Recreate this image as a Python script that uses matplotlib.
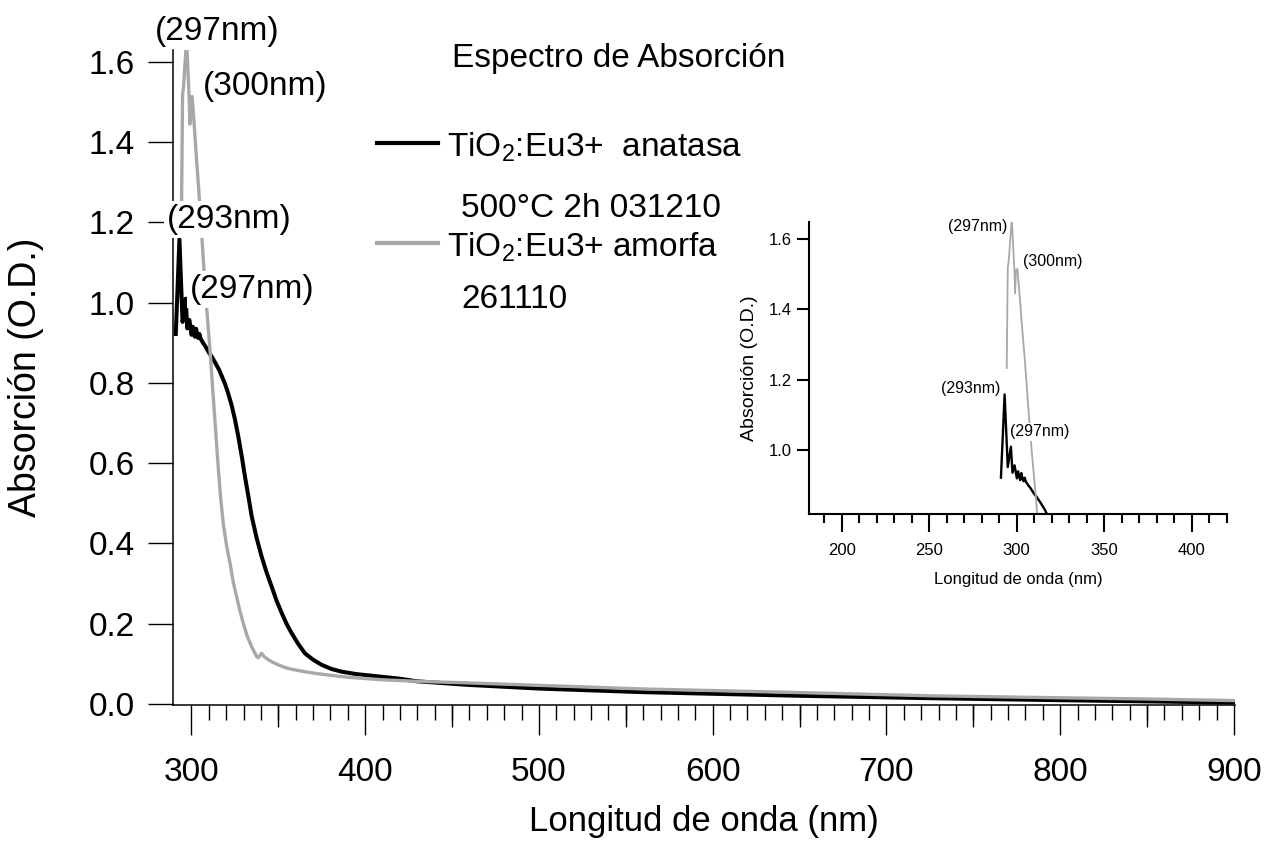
import numpy as np
import matplotlib
matplotlib.use('Agg')
import matplotlib.pyplot as plt
from matplotlib.ticker import MultipleLocator, FixedLocator, FormatStrFormatter, NullFormatter
from matplotlib.lines import Line2D

plt.rcParams['font.family'] = ['Liberation Sans', 'DejaVu Sans']
plt.rcParams['mathtext.fontset'] = 'custom'
plt.rcParams['mathtext.rm'] = 'Liberation Sans'
plt.rcParams['mathtext.it'] = 'Liberation Sans:italic'

# espectro TiO2:Eu3+ anatasa (500C 2h 031210)
wl_anatasa = [291.0, 293.1, 294.9, 296.7, 297.6, 298.8, 300.1, 300.8, 301.5, 302.0, 302.7,
              303.4, 303.9, 304.6, 305.3, 306.0, 306.8, 307.8, 308.7, 310.0, 311.6, 313.5,
              316.0, 319.3, 321.0, 323.1, 325.0, 327.0, 329.0, 330.8, 332.8, 334.7, 337.5,
              340.4, 343.3, 346.2, 349.0, 352.0, 354.8, 357.7, 361.5, 365.3, 370.0, 375.0,
              380.5, 386.5, 395.0, 403.7, 419.1, 430.0, 460.0, 500.0, 560.0, 600.0, 650.0,
              725.0, 800.0, 850.0, 900.0]
abs_anatasa = [0.922, 1.158, 0.952, 1.010, 0.936, 0.957, 0.920, 0.940, 0.925, 0.915, 0.935,
               0.918, 0.912, 0.922, 0.910, 0.905, 0.899, 0.893, 0.886, 0.876, 0.866, 0.852,
               0.832, 0.798, 0.776, 0.745, 0.710, 0.666, 0.616, 0.567, 0.517, 0.467, 0.414,
               0.367, 0.327, 0.292, 0.257, 0.226, 0.199, 0.176, 0.149, 0.126, 0.110, 0.097,
               0.087, 0.080, 0.074, 0.070, 0.063, 0.056, 0.047, 0.038, 0.029, 0.025, 0.020,
               0.014, 0.009, 0.006, 0.003]

# espectro TiO2:Eu3+ amorfa (261110)
wl_amorfa = [294.3, 294.9, 295.5, 297.2, 298.7, 299.1, 299.6, 300.4, 301.5, 302.9, 304.9,
             306.8, 308.7, 310.7, 312.0, 313.5, 315.4, 316.8, 318.3, 320.2, 322.2, 324.0,
             326.0, 327.9, 329.8, 332.0, 334.6, 337.5, 338.5, 340.4, 342.0, 344.2, 347.0,
             350.0, 353.5, 357.7, 364.0, 371.1, 380.0, 390.3, 409.5, 430.0, 460.0, 500.0,
             560.0, 600.0, 650.0, 725.0, 800.0, 850.0, 900.0]
abs_amorfa = [1.233, 1.518, 1.540, 1.657, 1.510, 1.445, 1.510, 1.514, 1.450, 1.360, 1.240,
              1.110, 0.990, 0.882, 0.800, 0.708, 0.591, 0.515, 0.450, 0.395, 0.351, 0.305,
              0.267, 0.232, 0.201, 0.170, 0.143, 0.118, 0.115, 0.126, 0.117, 0.110, 0.103,
              0.097, 0.091, 0.086, 0.081, 0.076, 0.071, 0.066, 0.060, 0.056, 0.052, 0.046,
              0.037, 0.033, 0.028, 0.020, 0.015, 0.012, 0.008]

GRAY = '#a8a8a8'
W, H = 1265, 847


def fx(px):
    return px / W


def fy(py):
    return 1 - py / H


fig = plt.figure(figsize=(W / 100, H / 100), dpi=100)

# --- main plot ---
ax = fig.add_axes([fx(173), fy(705), (1235 - 173) / W, (705 - 50) / H])
ax.plot(wl_anatasa, abs_anatasa, color='black', lw=2.9, zorder=2)
ax.plot(wl_amorfa, abs_amorfa, color=GRAY, lw=2.4, zorder=3)
ax.set_xlim(289.4, 900.6)
ax.set_ylim(-0.003, 1.63)
for s in ['top', 'right']:
    ax.spines[s].set_visible(False)
for s in ['left', 'bottom']:
    ax.spines[s].set_linewidth(1.1)

ax.xaxis.set_major_locator(MultipleLocator(100))
ax.xaxis.set_minor_locator(FixedLocator(np.arange(300, 901, 10)))
ax.yaxis.set_major_locator(MultipleLocator(0.2))
ax.yaxis.set_major_formatter(FormatStrFormatter('%.1f'))
ax.tick_params(axis='x', which='major', length=21.6, width=1.0, labelsize=24, pad=16)
ax.tick_params(axis='x', which='minor', length=10.8, width=1.0)
ax.tick_params(axis='y', which='major', length=18, width=1.0, labelsize=24, pad=9.4)

# medium ticks every 50 nm
sec = ax.secondary_xaxis('bottom')
sec.xaxis.set_major_locator(FixedLocator(np.arange(350, 900, 100)))
sec.xaxis.set_major_formatter(NullFormatter())
sec.tick_params(length=15.8, width=1.0)
sec.spines['bottom'].set_visible(False)

ax.set_xlabel('Longitud de onda (nm)', fontsize=25)
ax.xaxis.set_label_coords(0.5, -0.153)
ax.set_ylabel('Absorción (O.D.)', fontsize=27)
ax.yaxis.set_label_coords((44 - 173) / 1062, 0.5)

fig.text(fx(452), fy(67), 'Espectro de Absorción', fontsize=24, va='baseline')

# legend
fig.add_artist(Line2D([fx(377), fx(438)], [fy(143), fy(143)], color='black', lw=3))
fig.add_artist(Line2D([fx(377), fx(438)], [fy(243), fy(243)], color=GRAY, lw=3))
fig.text(fx(447), fy(157), r'TiO$_\mathregular{2}$:Eu3+  anatasa', fontsize=24, va='baseline')
fig.text(fx(461), fy(217), '500°C 2h 031210', fontsize=24, va='baseline')
fig.text(fx(447), fy(257), r'TiO$_\mathregular{2}$:Eu3+ amorfa', fontsize=24, va='baseline')
fig.text(fx(461), fy(308), '261110', fontsize=24, va='baseline')

# peak labels
box = dict(facecolor='white', edgecolor='none', pad=2.5)
fig.text(fx(155), fy(40), '(297nm)', fontsize=24, va='baseline')
fig.text(fx(203), fy(95), '(300nm)', fontsize=24, va='baseline')
fig.text(fx(167), fy(228), '(293nm)', fontsize=24, va='baseline', bbox=box)
fig.text(fx(190), fy(298), '(297nm)', fontsize=24, va='baseline', bbox=box)

# --- inset ---
ins = fig.add_axes([fx(809.3), fy(514), (1226.7 - 809.3) / W, (514 - 221.7) / H])
ins.plot(wl_anatasa, abs_anatasa, color='black', lw=1.7)
ins.plot(wl_amorfa, abs_amorfa, color=GRAY, lw=1.3)
ins.set_xlim(181.5, 420)
ins.set_ylim(0.819, 1.648)
for s in ['top', 'right']:
    ins.spines[s].set_visible(False)
for s in ['left', 'bottom']:
    ins.spines[s].set_linewidth(1.5)
ins.xaxis.set_major_locator(FixedLocator([200, 250, 300, 350, 400]))
ins.xaxis.set_minor_locator(FixedLocator(np.arange(190, 421, 10)))
ins.yaxis.set_major_locator(FixedLocator([1.0, 1.2, 1.4, 1.6]))
ins.yaxis.set_major_formatter(FormatStrFormatter('%.1f'))
ins.tick_params(axis='x', which='major', length=12.7, width=1.5, labelsize=12, pad=8.5)
ins.tick_params(axis='x', which='minor', length=6.7, width=1.5)
ins.tick_params(axis='y', which='major', length=9, width=1.5, labelsize=12, pad=3.6)
ins.set_xlabel('Longitud de onda (nm)', fontsize=12)
ins.xaxis.set_label_coords(0.5, -0.198)
ins.set_ylabel('Absorción (O.D.)', fontsize=14)
ins.yaxis.set_label_coords((758 - 809.3) / 417.4, 0.5)

sbox = dict(facecolor='white', edgecolor='none', pad=1)
fig.text(fx(1007.7), fy(226.7), '(297nm)', fontsize=11.5, ha='right', va='center', bbox=sbox)
fig.text(fx(1022.7), fy(261), '(300nm)', fontsize=11.5, ha='left', va='center', bbox=sbox)
fig.text(fx(1000), fy(388.3), '(293nm)', fontsize=11.5, ha='right', va='center', bbox=sbox)
fig.text(fx(1010), fy(431.7), '(297nm)', fontsize=11.5, ha='left', va='center', bbox=sbox)

fig.savefig('out.png', dpi=100)
